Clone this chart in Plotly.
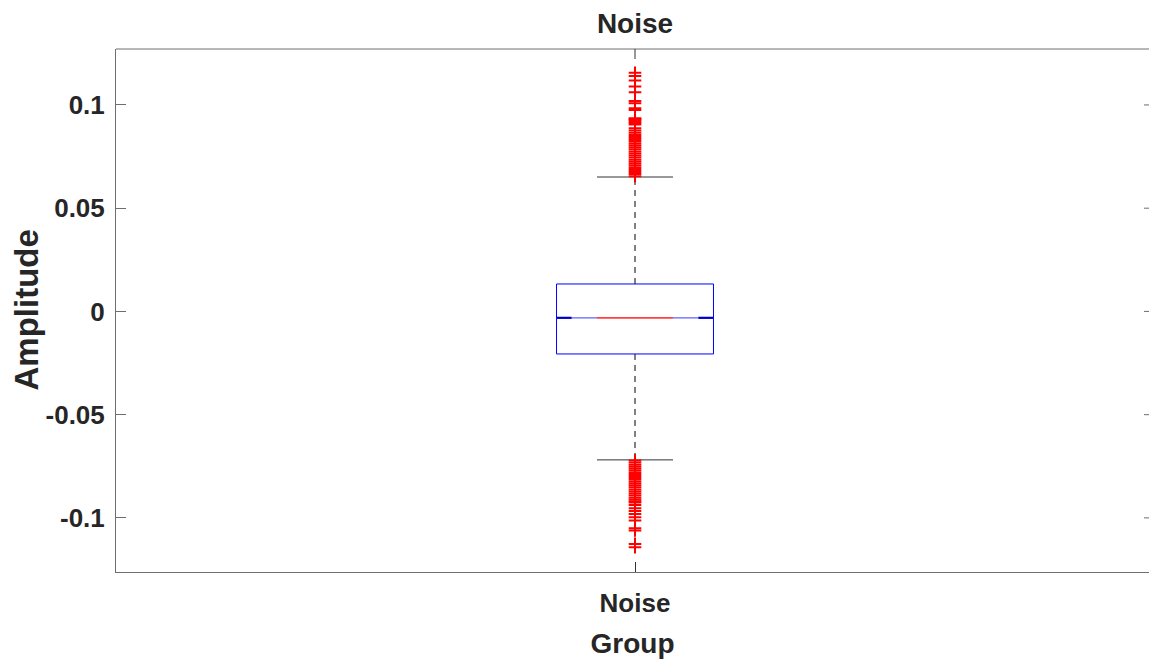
import plotly.graph_objects as go

# ---------------- data ----------------
group_names = ["Noise"]
group_pos = [1]

q1 = [-0.0206]
median = [-0.0031]
q3 = [0.0133]
lower_whisker = [-0.0719]
upper_whisker = [0.0651]

upper_outliers = [
    0.0655, 0.0665, 0.0675, 0.0685, 0.0695, 0.0705, 0.0715, 0.0725, 0.0735,
    0.0745, 0.0755, 0.0765, 0.0775, 0.0785, 0.0795, 0.0805, 0.0815, 0.0825,
    0.0835, 0.0845, 0.0855, 0.0865, 0.0876, 0.0887, 0.0905, 0.0913, 0.0920,
    0.0927, 0.0932, 0.0936, 0.0976, 0.0984, 0.1008, 0.1019, 0.1061, 0.1089,
    0.1118, 0.1140, 0.1156,
]
lower_outliers = [
    -0.0722, -0.0732, -0.0742, -0.0752, -0.0762, -0.0772, -0.0782, -0.0792,
    -0.0802, -0.0812, -0.0822, -0.0832, -0.0842, -0.0852, -0.0862, -0.0872,
    -0.0882, -0.0892, -0.0902, -0.0912, -0.0920, -0.0925, -0.0937, -0.0953,
    -0.0966, -0.0981, -0.0997, -0.1013, -0.1050, -0.1061, -0.1126, -0.1142,
]

y_tick_vals = [-0.1, -0.05, 0, 0.05, 0.1]
y_tick_text = ["-0.1", "-0.05", "0", "0.05", "0.1"]

title_text = "Noise"
x_title = "Group"
y_title = "Amplitude"

# ---------------- style ----------------
W, H = 1149, 659
BOX_HALF = 0.0756
CAP_HALF = 0.0366
END_LEN = 0.0145
TXT = "#262626"
AX = "#6e6e6e"
FONT = "Liberation Sans"

fig = go.Figure()

for i, xc in enumerate(group_pos):
    # whiskers (dashed)
    fig.add_trace(go.Scatter(
        x=[xc, xc, None, xc, xc],
        y=[q3[i], upper_whisker[i], None, q1[i], lower_whisker[i]],
        mode="lines", line=dict(color="black", width=1, dash="6px,5px"),
        hoverinfo="skip", showlegend=False))
    # whisker caps
    fig.add_trace(go.Scatter(
        x=[xc - CAP_HALF, xc + CAP_HALF, None, xc - CAP_HALF, xc + CAP_HALF],
        y=[upper_whisker[i], upper_whisker[i], None, lower_whisker[i], lower_whisker[i]],
        mode="lines", line=dict(color="#333333", width=1),
        hoverinfo="skip", showlegend=False))
    # box
    fig.add_trace(go.Scatter(
        x=[xc - BOX_HALF, xc + BOX_HALF, xc + BOX_HALF, xc - BOX_HALF, xc - BOX_HALF],
        y=[q1[i], q1[i], q3[i], q3[i], q1[i]],
        mode="lines", line=dict(color="#0000ff", width=1),
        hoverinfo="skip", showlegend=False))
    # median: blue across box, thick blue ends, red centre
    fig.add_trace(go.Scatter(
        x=[xc - BOX_HALF, xc - CAP_HALF, None, xc + CAP_HALF, xc + BOX_HALF],
        y=[median[i], median[i], None, median[i], median[i]],
        mode="lines", line=dict(color="#6060ff", width=1.2),
        hoverinfo="skip", showlegend=False))
    fig.add_trace(go.Scatter(
        x=[xc - BOX_HALF, xc - BOX_HALF + END_LEN, None,
           xc + BOX_HALF - END_LEN, xc + BOX_HALF],
        y=[median[i], median[i], None, median[i], median[i]],
        mode="lines", line=dict(color="#0000cc", width=2.2),
        hoverinfo="skip", showlegend=False))
    fig.add_trace(go.Scatter(
        x=[xc - CAP_HALF, xc + CAP_HALF],
        y=[median[i], median[i]],
        mode="lines", line=dict(color="#ff4040", width=1.6),
        hoverinfo="skip", showlegend=False))
    # outliers
    outs = upper_outliers + lower_outliers
    fig.add_trace(go.Scatter(
        x=[xc] * len(outs), y=outs, mode="markers",
        marker=dict(symbol="cross-thin", size=9, line=dict(color="#ff0000", width=2)),
        hoverinfo="skip", showlegend=False))

L, R, T, B = 116, 0, 49, 87
plot_w = W - L - R
plot_h = H - T - B
full_w = 1038  # the original axes extend slightly beyond the image
x_range = [0.5, 0.5 + plot_w / full_w]
y_range = [-0.1262, 0.1271]

# frame pieces drawn as shapes: top border, top tick, right-hand inward ticks
shapes = [dict(type="line", xref="paper", yref="paper", x0=0, x1=1.02, y0=1, y1=1,
               line=dict(color=AX, width=1))]
shapes += [dict(type="line", xref="x", yref="paper", x0=p, x1=p, y0=1 - 10 / plot_h, y1=1,
                line=dict(color="#333333", width=1)) for p in group_pos]
shapes += [dict(type="line", xref="paper", yref="y", x0=1 - 5 / plot_w, x1=1,
                y0=v, y1=v, line=dict(color=AX, width=1)) for v in y_tick_vals]

annotations = [dict(text=y_title, textangle=-90, xref="paper", yref="paper",
                    x=(26 - L) / plot_w, y=0.5, xanchor="center", yanchor="middle",
                    showarrow=False,
                    font=dict(size=33, family=FONT, color=TXT, weight="bold"))]

fig.update_layout(
    width=W, height=H,
    margin=dict(l=L, r=R, t=T, b=B),
    paper_bgcolor="white", plot_bgcolor="white",
    font=dict(family=FONT, color=TXT),
    shapes=shapes,
    annotations=annotations,
    title=dict(text=title_text, x=(L + 0.5 * full_w) / W, xanchor="center",
               y=1 - 23 / H, yanchor="middle", yref="container",
               font=dict(size=28, family=FONT, color=TXT, weight="bold")),
    xaxis=dict(range=x_range, tickvals=group_pos, ticktext=group_names,
               ticks="inside", ticklen=10, tickcolor="#333333", tickwidth=1,
               showline=True, linecolor=AX, linewidth=1, mirror=False,
               showgrid=False, zeroline=False,
               tickfont=dict(size=26, family=FONT, color=TXT, weight="bold"),
               ticklabelstandoff=8,
               title=dict(text=x_title, standoff=16,
                          font=dict(size=28, family=FONT, color=TXT, weight="bold"))),
    yaxis=dict(range=y_range, tickvals=y_tick_vals, ticktext=y_tick_text,
               ticks="inside", ticklen=10, tickcolor=AX, tickwidth=1,
               showline=True, linecolor=AX, linewidth=1, mirror=False,
               showgrid=False, zeroline=False,
               tickfont=dict(size=26, family=FONT, color=TXT, weight="bold"),
               ticklabelstandoff=5),
)

fig.write_html("out.html")
